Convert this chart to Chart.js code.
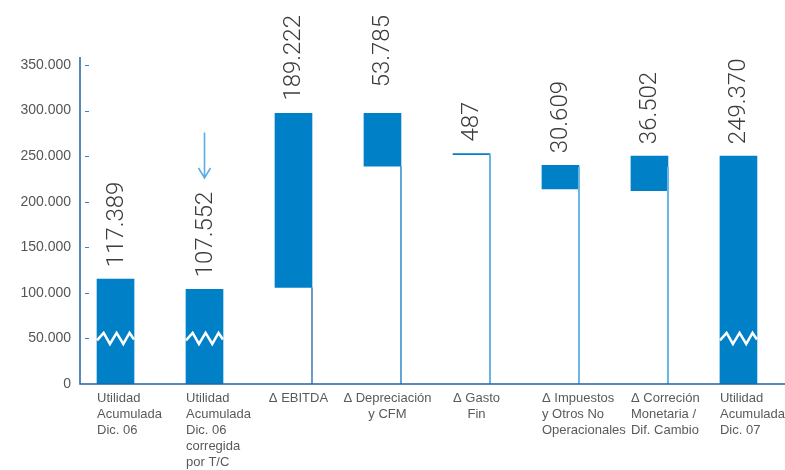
<!DOCTYPE html>
<html>
    <head>
        <meta charset="UTF-8">
        <title>Utilidad Acumulada</title>
        <script src="https://cdn.jsdelivr.net/npm/chart.js"></script>
        <style>
            html, body { margin: 0; padding: 0; background: #fff; }
        </style>
    </head>
    <body>
        <canvas id="chart" width="785" height="470"></canvas>
        <script>
        // categorías (una línea por elemento)
        const categories = [
            ['Utilidad', 'Acumulada', 'Dic. 06'],
            ['Utilidad', 'Acumulada', 'Dic. 06', 'corregida', 'por T/C'],
            ['\u0394 EBITDA'],
            ['\u0394 Depreciación', 'y CFM'],
            ['\u0394 Gasto', 'Fin'],
            ['\u0394 Impuestos', 'y Otros No', 'Operacionales'],
            ['\u0394 Correción', 'Monetaria /', 'Dif. Cambio'],
            ['Utilidad', 'Acumulada', 'Dic. 07']
        ];
        const barLow  = [0, 0, 106000, 239000, 251700, 214000, 212000, 0];
        const barHigh = [115000, 104000, 297000, 297000, 252800, 240000, 250000, 250000];
        const valueLabels = ['117.389', '107.552', '189.222', '53.785', '487', '30.609', '36.502', '249.370'];
        // líneas verticales a la derecha de cada barra (desde este valor hasta 0)
        const connectorTop = [null, null, 106000, 239000, 252000, 238000, 238000, null];
        // barras con corte de escala
        const breakBars = [0, 1, 7];
        const breakValue = 50000;
        // flecha sobre la barra corregida
        const arrowBar = 1;
        const arrowFrom = 276000;
        const arrowTo = 226000;
        const yMax = 350000;
        const yStep = 50000;

        const BLUE = '#0080c6';
        const AXIS = '#2461a8';
        const LIGHT = '#6bb5e5';
        const connectorColors = [null, null, AXIS, '#0a78c2', LIGHT, LIGHT, LIGHT, null];
        const labelAlign = ['left', 'left', 'center', 'center', 'center', 'left', 'left', 'left'];

        function fmt(v) {
            return String(v).replace(/\B(?=(\d{3})+(?!\d))/g, '.');
        }

        const extras = {
            id: 'extras',
            afterDatasetsDraw(chart) {
                const c = chart.ctx;
                const ys = chart.scales.y;
                const meta = chart.getDatasetMeta(0);
                const y0 = ys.getPixelForValue(0);
                c.save();

                // conectores
                meta.data.forEach((bar, i) => {
                    if (connectorTop[i] === null) return;
                    const x = bar.x + bar.width / 2;
                    c.strokeStyle = connectorColors[i];
                    c.lineWidth = i >= 4 ? 2 : 1.3;
                    c.beginPath();
                    c.moveTo(x, ys.getPixelForValue(connectorTop[i]));
                    c.lineTo(x, y0);
                    c.stroke();
                });

                // zigzag de corte
                breakBars.forEach(i => {
                    const bar = meta.data[i];
                    const l = bar.x - bar.width / 2, w = bar.width;
                    const yc = ys.getPixelForValue(breakValue);
                    const pts = [[0, 2], [0.18, -5.5], [0.35, 5.5], [0.53, -5.5], [0.71, 5.5], [0.88, -5.5], [1, 1]];
                    c.strokeStyle = '#fff';
                    c.lineWidth = 2.5;
                    c.lineJoin = 'miter';
                    c.beginPath();
                    pts.forEach((p, k) => {
                        const px = l + p[0] * w, py = yc + p[1];
                        if (k === 0) c.moveTo(px, py); else c.lineTo(px, py);
                    });
                    c.stroke();
                });

                // flecha
                const ax = meta.data[arrowBar].x;
                const ay1 = ys.getPixelForValue(arrowFrom), ay2 = ys.getPixelForValue(arrowTo);
                c.strokeStyle = '#5aaee2';
                c.lineWidth = 1.6;
                c.beginPath();
                c.moveTo(ax, ay1); c.lineTo(ax, ay2);
                c.moveTo(ax - 6, ay2 - 10); c.lineTo(ax, ay2); c.lineTo(ax + 6, ay2 - 10);
                c.stroke();

                // etiquetas de valor (rotadas)
                c.font = '300 24px Roboto, "Liberation Sans", sans-serif';
                c.fillStyle = '#3c3c3c';
                c.textAlign = 'left';
                c.textBaseline = 'middle';
                meta.data.forEach((bar, i) => {
                    const top = ys.getPixelForValue(barHigh[i]);
                    const w = c.measureText(valueLabels[i]).width;
                    let yb = top - 12;
                    if (yb - w < 40) yb = 15 + w;
                    c.save();
                    c.translate(bar.x, yb);
                    c.rotate(-Math.PI / 2);
                    c.fillText(valueLabels[i], 0, 1);
                    c.restore();
                });

                // etiquetas de categoría
                c.font = '13px "Liberation Sans", Arial, sans-serif';
                c.fillStyle = '#5a5a5a';
                c.textBaseline = 'top';
                meta.data.forEach((bar, i) => {
                    let x;
                    if (labelAlign[i] === 'left') {
                        c.textAlign = 'left';
                        x = bar.x - bar.width / 2;
                    } else {
                        c.textAlign = 'center';
                        x = bar.x + 5;
                    }
                    categories[i].forEach((line, k) => {
                        c.fillText(line, x, y0 + 8 + k * 16);
                    });
                });

                // ejes
                const left = chart.chartArea.left;
                c.strokeStyle = AXIS;
                c.lineWidth = 1.5;
                c.beginPath();
                c.moveTo(left, ys.getPixelForValue(yMax) - 8);
                c.lineTo(left, y0);
                c.lineTo(chart.width, y0);
                c.stroke();

                // marcas del eje Y
                c.lineWidth = 1;
                c.strokeStyle = '#3f7fc4';
                for (let v = yStep; v <= yMax; v += yStep) {
                    const py = Math.round(ys.getPixelForValue(v)) + 0.5;
                    c.beginPath();
                    c.moveTo(left + 5, py);
                    c.lineTo(left + 9, py);
                    c.stroke();
                }
                c.restore();
            }
        };

        const ctx = document.getElementById('chart').getContext('2d');
        new Chart(ctx, {
            type: 'bar',
            data: {
                datasets: [{
                    data: barLow.map((lo, i) => ({x: i, y: [lo, barHigh[i]]})),
                    backgroundColor: BLUE,
                    borderWidth: 0,
                    borderSkipped: false,
                    barThickness: 37
                }]
            },
            options: {
                responsive: false,
                animation: false,
                layout: { padding: { top: 65, left: 0, right: 0, bottom: 0 } },
                plugins: {
                    legend: { display: false },
                    tooltip: { enabled: false }
                },
                scales: {
                    x: {
                        type: 'linear',
                        offset: false,
                        min: -0.399,
                        max: 7.523,
                        ticks: { display: false },
                        grid: { display: false, offset: false },
                        border: { display: false },
                        afterFit(scale) { scale.height = 86; }
                    },
                    y: {
                        min: 0,
                        max: yMax,
                        ticks: {
                            stepSize: yStep,
                            padding: 9,
                            color: '#555',
                            font: { family: '"Liberation Sans", Arial, sans-serif', size: 14 },
                            callback: v => fmt(v)
                        },
                        grid: { display: false, drawTicks: false },
                        border: { display: false },
                        afterFit(scale) { scale.width = 80; }
                    }
                }
            },
            plugins: [extras]
        });
        </script>
    </body>
</html>
